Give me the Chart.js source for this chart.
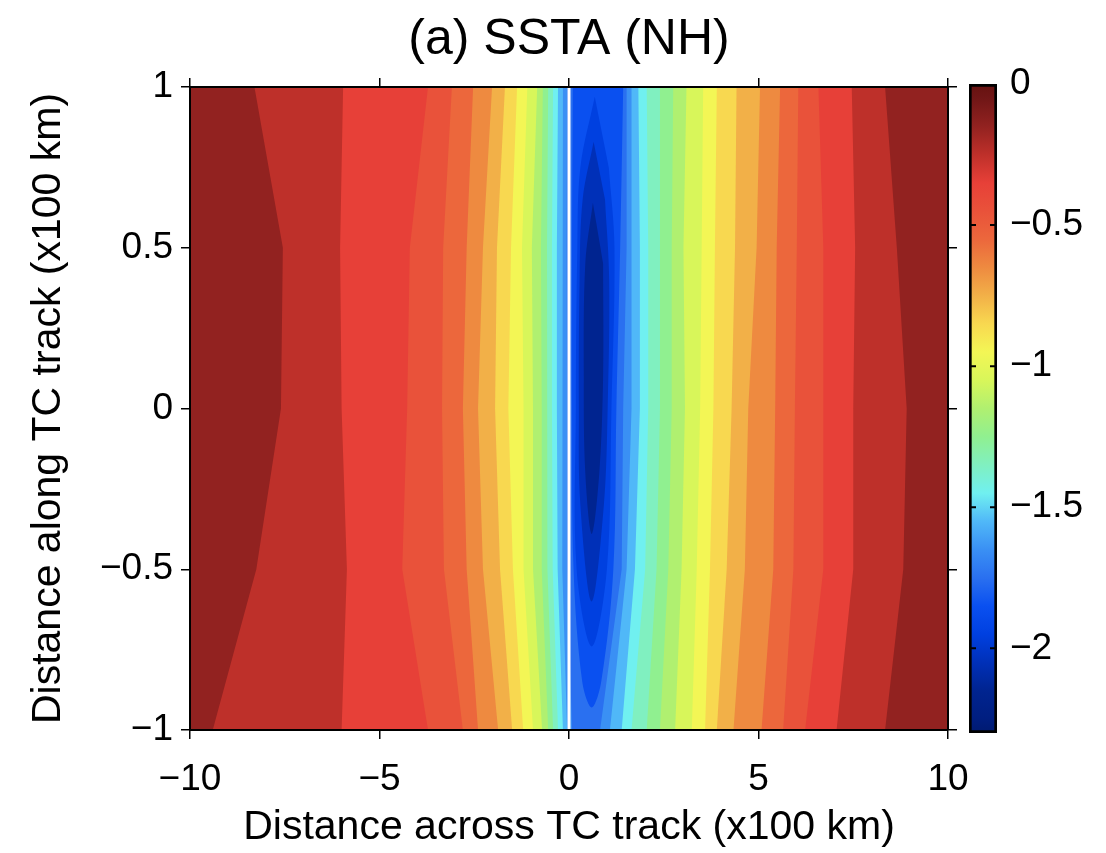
<!DOCTYPE html>
<html>
<head>
<meta charset="utf-8">
<script src="https://cdn.jsdelivr.net/npm/chart.js@4/dist/chart.umd.min.js"></script>
<style>
  html, body { margin: 0; padding: 0; background: #fff; }
  #wrap { position: relative; width: 1106px; height: 853px; }
  #main { position: absolute; left: 0; top: 0; }
  #cbar { position: absolute; left: 948px; top: 0; }
</style>
</head>
<body>
<div id="wrap">
  <canvas id="main" width="1106" height="853"></canvas>
  <canvas id="cbar" width="158" height="853"></canvas>
</div>
<script>
// ── 資料 ────────────────────────────────────────────────
const xTicks = [-10, -5, 0, 5, 10];
const yTicks = [-1, -0.5, 0, 0.5, 1];
const cbarTicks = [0, -0.5, -1, -1.5, -2];
const cbarRange = [-2.3, 0];
const trackX = 0;

// contour levels that cross the whole panel (top to bottom)
const rowsY = [1, 0.5, 0, -0.5, -1];
const levels = [-0.2, -0.3, -0.4, -0.5, -0.6, -0.7, -0.8, -0.9,
                -1.0, -1.1, -1.2, -1.3, -1.4, -1.5, -1.6, -1.7];
// x of each level on the left / right side of the cold wake, per row
const leftX = [
  [-8.3, -7.55, -7.6, -8.25, -9.4],
  [-5.96, -6.04, -6.0, -5.86, -6.0],
  [-3.72, -4.2, -4.27, -4.4, -3.72],
  [-3.09, -3.32, -3.35, -3.3, -2.8],
  [-2.53, -2.7, -2.8, -2.7, -2.4],
  [-2.03, -2.27, -2.4, -2.27, -1.87],
  [-1.69, -1.9, -1.95, -1.82, -1.5],
  [-1.37, -1.53, -1.6, -1.48, -1.21],
  [-1.1, -1.24, -1.2, -1.2, -0.95],
  [-0.84, -0.98, -0.95, -0.95, -0.71],
  [-0.69, -0.74, -0.72, -0.72, -0.55],
  [-0.55, -0.58, -0.58, -0.56, -0.42],
  [-0.42, -0.45, -0.45, -0.43, -0.29],
  [-0.29, -0.32, -0.32, -0.3, -0.16],
  [-0.16, -0.18, -0.18, -0.17, -0.05],
  [-0.05, -0.06, -0.05, -0.05, 0.08],
];
const rightX = [
  [8.34, 8.65, 8.91, 8.82, 8.34],
  [7.46, 7.55, 7.50, 7.50, 7.06],
  [6.58, 6.71, 6.71, 6.71, 6.23],
  [6.05, 6.01, 5.96, 5.92, 5.65],
  [5.57, 5.48, 5.44, 5.39, 5.08],
  [5.04, 4.95, 4.73, 4.64, 4.34],
  [4.42, 4.38, 4.29, 4.16, 3.90],
  [3.90, 3.85, 3.81, 3.72, 3.59],
  [3.54, 3.50, 3.46, 3.37, 3.24],
  [3.10, 3.02, 3.06, 2.97, 2.80],
  [2.75, 2.71, 2.71, 2.62, 2.40],
  [2.40, 2.40, 2.40, 2.31, 2.05],
  [2.05, 2.09, 2.09, 2.01, 1.65],
  [1.83, 1.87, 1.87, 1.74, 1.39],
  [1.65, 1.65, 1.65, 1.52, 1.08],
  [1.52, 1.52, 1.43, 1.39, 0.82],
];

// cold core contours (outline points, x / y)
const coreLevels = [-1.8, -1.9, -2.0, -2.1];
const coreX = [
  [0.10, 0.08, 0.08, 0.12, 0.35, 0.6, 0.85, 1.17, 1.25, 1.35, 1.43],
  [0.68, 0.3, 0.22, 0.18, 0.2, 0.6, 1.0, 1.12, 1.2, 1.05],
  [0.65, 0.36, 0.28, 0.26, 0.3, 0.6, 0.92, 1.02, 1.06, 0.95],
  [0.63, 0.43, 0.39, 0.43, 0.6, 0.8, 0.9, 0.9],
];
const coreY = [
  [1, 0.5, 0, -0.5, -0.85, -0.93, -0.85, -0.5, 0, 0.5, 1],
  [0.97, 0.75, 0.5, 0, -0.5, -0.74, -0.5, 0, 0.5, 0.75],
  [0.83, 0.65, 0.4, 0, -0.3, -0.6, -0.3, 0, 0.4, 0.65],
  [0.64, 0.45, 0.1, -0.2, -0.39, -0.2, 0.1, 0.45],
];

// ── 色表 ────────────────────────────────────────────────
const CMAP_V = [0, -0.05, -0.15, -0.25, -0.35, -0.45, -0.55, -0.65, -0.75, -0.85,
  -0.95, -1.05, -1.15, -1.25, -1.35, -1.45, -1.55, -1.65, -1.75, -1.85,
  -1.95, -2.05, -2.15, -2.25, -2.3];
const CMAP_C = ["#661210", "#701616", "#922220", "#be302a", "#e74038", "#e9523a",
  "#ec673c", "#ee8a40", "#f2b048", "#f8d850", "#f3f655", "#d8f65a", "#b0f070",
  "#90f090", "#80f0c0", "#70f0f0", "#50b8f8", "#3a90f4", "#2a70f0", "#0a50f0",
  "#0040e0", "#0030b8", "#002490", "#001e80", "#001a70"];

const FONT = "'Liberation Sans', Arial, Helvetica, sans-serif";

function hex2rgb(h) {
  return [1, 3, 5].map(i => parseInt(h.slice(i, i + 2), 16));
}

function cmap(v) {
  if (v >= CMAP_V[0]) return CMAP_C[0];
  for (let i = 1; i < CMAP_V.length; i++) {
    if (v >= CMAP_V[i]) {
      const t = (CMAP_V[i - 1] - v) / (CMAP_V[i - 1] - CMAP_V[i]);
      const a = hex2rgb(CMAP_C[i - 1]), b = hex2rgb(CMAP_C[i]);
      const c = a.map((q, k) => Math.round(q + (b[k] - q) * t));
      return `rgb(${c[0]},${c[1]},${c[2]})`;
    }
  }
  return CMAP_C[CMAP_C.length - 1];
}

const fmtTick = v => String(v).replace("-", "\u2212");

// ── 等值區塊（由外到內疊畫）─────────────────────────────
function openBand(i) {
  const pts = rowsY.map((y, r) => ({ x: leftX[i][r], y }));
  for (let r = rowsY.length - 1; r >= 0; r--) pts.push({ x: rightX[i][r], y: rowsY[r] });
  return pts;
}

const datasets = [];
let orderTop = 1000;
levels.forEach((lv, i) => {
  datasets.push({
    data: openBand(i),
    backgroundColor: cmap(lv - 0.05),
    borderWidth: 0, pointRadius: 0, fill: "shape", tension: 0,
    order: orderTop--,
  });
});
coreLevels.forEach((lv, i) => {
  datasets.push({
    data: coreX[i].map((x, k) => ({ x, y: coreY[i][k] })),
    backgroundColor: cmap(lv - 0.05),
    borderWidth: 0, pointRadius: 0, fill: "shape", tension: 0.35,
    order: orderTop--,
  });
});
// TC 路徑（白線）
datasets.push({
  data: [{ x: trackX, y: -1 }, { x: trackX, y: 1 }],
  borderColor: "#ffffff", borderWidth: 3, pointRadius: 0, fill: false,
  order: 0,
});

// ── 外掛 ────────────────────────────────────────────────
const plotBg = {
  id: "plot-bg",
  beforeDatasetsDraw(chart) {
    const { ctx, chartArea: a } = chart;
    ctx.save();
    ctx.fillStyle = cmap(levels[0] + 0.05);
    ctx.fillRect(a.left, a.top, a.right - a.left, a.bottom - a.top);
    ctx.restore();
  },
};

const setTicks = arr => scale => { scale.ticks = arr.map(v => ({ value: v })); };

const gridOpts = { drawOnChartArea: false, drawTicks: true, tickLength: 9, color: "#000", lineWidth: 1.5 };
const borderOpts = { display: true, color: "#000", width: 2, z: 1 };
const tickFont = { family: FONT, size: 37 };
const titleFont = { family: FONT, size: 41 };

new Chart(document.getElementById("main"), {
  type: "line",
  data: { datasets },
  options: {
    responsive: false,
    animation: false,
    events: [],
    layout: { padding: 0 },
    scales: {
      x: {
        type: "linear", position: "bottom", min: -10, max: 10,
        afterBuildTicks: setTicks(xTicks),
        afterFit: s => { s.height = 123; },
        grid: gridOpts, border: borderOpts,
        ticks: { font: tickFont, color: "#000", padding: 19, maxRotation: 0, autoSkip: false, callback: fmtTick },
        title: { display: true, text: "Distance across TC track (x100 km)", color: "#000",
                 font: titleFont, padding: { top: 0, bottom: 1 } },
      },
      x2: {
        type: "linear", position: "top", min: -10, max: 10,
        afterBuildTicks: setTicks(xTicks),
        afterFit: s => { s.height = 87 - 70; },
        grid: gridOpts, border: borderOpts, ticks: { display: false },
      },
      y: {
        type: "linear", position: "left", min: -1, max: 1,
        afterBuildTicks: setTicks(yTicks),
        afterFit: s => { s.width = 190; },
        grid: gridOpts, border: borderOpts,
        ticks: { font: tickFont, color: "#000", padding: 8, autoSkip: false, callback: fmtTick },
        title: { display: true, text: "Distance along TC track (x100 km)", color: "#000",
                 font: titleFont, padding: { top: 24, bottom: 0 } },
      },
      y2: {
        type: "linear", position: "right", min: -1, max: 1,
        afterBuildTicks: setTicks(yTicks),
        afterFit: s => { s.width = 158; },
        grid: gridOpts, border: borderOpts, ticks: { display: false },
      },
    },
    plugins: {
      legend: { display: false },
      tooltip: { enabled: false },
      title: {
        display: true, text: "(a) SSTA (NH)", color: "#000", fullSize: false,
        font: { family: FONT, size: 50, weight: "normal" },
        padding: { top: 10, bottom: 0 },
      },
    },
  },
  plugins: [plotBg],
});

// ── 色條 ────────────────────────────────────────────────
const cbarInnerTicks = {
  id: "cbar-ticks",
  afterDatasetsDraw(chart) {
    const { ctx, chartArea: { left, right }, scales: { y } } = chart;
    ctx.save();
    ctx.strokeStyle = "#000";
    ctx.lineWidth = 2;
    y.ticks.forEach(t => {
      if (t.value === cbarRange[1]) return;
      const py = y.getPixelForValue(t.value);
      ctx.beginPath();
      ctx.moveTo(left, py); ctx.lineTo(left + 7, py);
      ctx.moveTo(right, py); ctx.lineTo(right - 7, py);
      ctx.stroke();
    });
    ctx.restore();
  },
};

function cbarGradient(c) {
  const { chart } = c;
  const { ctx, chartArea, scales } = chart;
  if (!chartArea) return "#888";
  const y0 = scales.y.getPixelForValue(cbarRange[1]);
  const y1 = scales.y.getPixelForValue(cbarRange[0]);
  const g = ctx.createLinearGradient(0, y0, 0, y1);
  CMAP_V.forEach((v, i) => {
    const t = (cbarRange[1] - v) / (cbarRange[1] - cbarRange[0]);
    g.addColorStop(Math.min(1, Math.max(0, t)), CMAP_C[i]);
  });
  return g;
}

new Chart(document.getElementById("cbar"), {
  type: "bar",
  data: {
    labels: [""],
    datasets: [{
      data: [cbarRange],
      backgroundColor: cbarGradient,
      borderColor: "#000", borderWidth: 3, borderSkipped: false,
      barPercentage: 1, categoryPercentage: 1,
    }],
  },
  options: {
    responsive: false,
    animation: false,
    events: [],
    layout: { padding: { left: 21, top: 84, bottom: 120, right: 0 } },
    scales: {
      x: { display: false },
      y: {
        position: "right", min: cbarRange[0], max: cbarRange[1],
        afterBuildTicks: setTicks(cbarTicks),
        afterFit: s => { s.width = 158 - 49; },
        grid: { display: false, drawTicks: false },
        border: { display: false },
        ticks: { font: tickFont, color: "#000", padding: 13, autoSkip: false, callback: fmtTick },
      },
    },
    plugins: { legend: { display: false }, tooltip: { enabled: false } },
  },
  plugins: [cbarInnerTicks],
});
</script>
</body>
</html>
